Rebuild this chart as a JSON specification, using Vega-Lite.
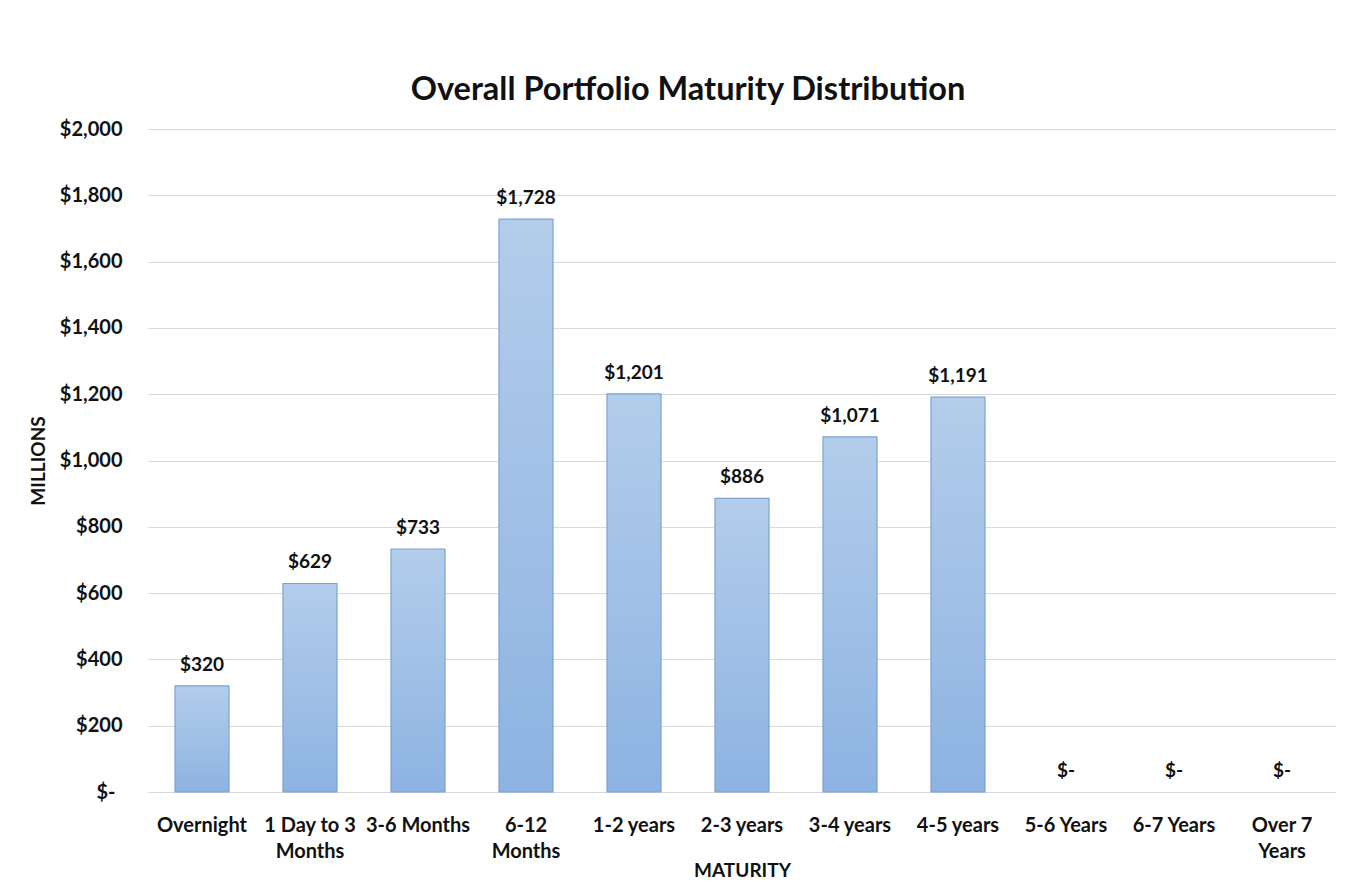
{
  "$schema": "https://vega.github.io/schema/vega-lite/v6.json",
  "width": 1188,
  "height": 663,
  "autosize": {"type": "none"},
  "padding": {"left": 148, "top": 129, "right": 12, "bottom": 90},
  "background": "white",
  "title": {
    "text": "Overall Portfolio Maturity Distribution",
    "font": "Lato",
    "fontSize": 32.5,
    "fontWeight": "bold",
    "color": "#111111",
    "anchor": "middle",
    "dx": -54,
    "offset": 13
  },
  "data": {
    "values": [
      {"maturity": "Overnight", "value": 320},
      {"maturity": "1 Day to 3|Months", "value": 629},
      {"maturity": "3-6 Months", "value": 733},
      {"maturity": "6-12|Months", "value": 1728},
      {"maturity": "1-2 years", "value": 1201},
      {"maturity": "2-3 years", "value": 886},
      {"maturity": "3-4 years", "value": 1071},
      {"maturity": "4-5 years", "value": 1191},
      {"maturity": "5-6 Years", "value": 0},
      {"maturity": "6-7 Years", "value": 0},
      {"maturity": "Over 7|Years", "value": 0}
    ]
  },
  "transform": [
    {"calculate": "datum.value == 0 ? '$-' : '$' + format(datum.value, ',')", "as": "label"}
  ],
  "encoding": {
    "x": {
      "field": "maturity",
      "type": "nominal",
      "sort": null,
      "scale": {"paddingInner": 0.5, "paddingOuter": 0.25},
      "axis": {
        "title": "MATURITY",
        "titleFont": "Lato",
        "titleFontSize": 19,
        "titleFontWeight": "bold",
        "titleColor": "#111111",
        "titleY": 78,
        "titleBaseline": "middle",
        "labelAngle": 0,
        "labelExpr": "split(datum.label, '|')",
        "labelFont": "Lato",
        "labelFontSize": 20,
        "labelFontWeight": "bold",
        "labelColor": "#111111",
        "labelPadding": 33,
        "labelLineHeight": 26,
        "labelBaseline": "middle",
        "ticks": false,
        "domain": false,
        "grid": false
      }
    },
    "y": {
      "field": "value",
      "type": "quantitative",
      "scale": {"domain": [0, 2000]},
      "axis": {
        "title": "MILLIONS",
        "titleFont": "Lato",
        "titleFontSize": 19,
        "titleFontWeight": "bold",
        "titleColor": "#111111",
        "titleX": -110,
        "titleBaseline": "middle",
        "values": [0, 200, 400, 600, 800, 1000, 1200, 1400, 1600, 1800, 2000],
        "labelExpr": "datum.value == 0 ? '$-' : '$' + format(datum.value, ',')",
        "labelFont": "Lato",
        "labelFontSize": 20,
        "labelFontWeight": "bold",
        "labelColor": "#111111",
        "labelPadding": {"condition": {"test": "datum.value == 0", "value": 33}, "value": 26},
        "ticks": false,
        "domain": false,
        "grid": true,
        "gridColor": "#d9d9d9",
        "gridWidth": 1.2
      }
    }
  },
  "layer": [
    {
      "transform": [{"filter": "datum.value > 0"}],
      "mark": {
        "type": "bar",
        "stroke": "#7aa3d1",
        "strokeWidth": 1.2,
        "color": {
          "gradient": "linear",
          "x1": 0, "y1": 0, "x2": 0, "y2": 1,
          "stops": [
            {"offset": 0, "color": "#b3cdeb"},
            {"offset": 1, "color": "#8db3e2"}
          ]
        }
      }
    },
    {
      "mark": {
        "type": "text",
        "dy": -21,
        "baseline": "middle",
        "font": "Lato",
        "fontSize": 19,
        "fontWeight": "bold",
        "color": "#111111"
      },
      "encoding": {"text": {"field": "label"}}
    }
  ],
  "config": {"view": {"stroke": null}}
}
